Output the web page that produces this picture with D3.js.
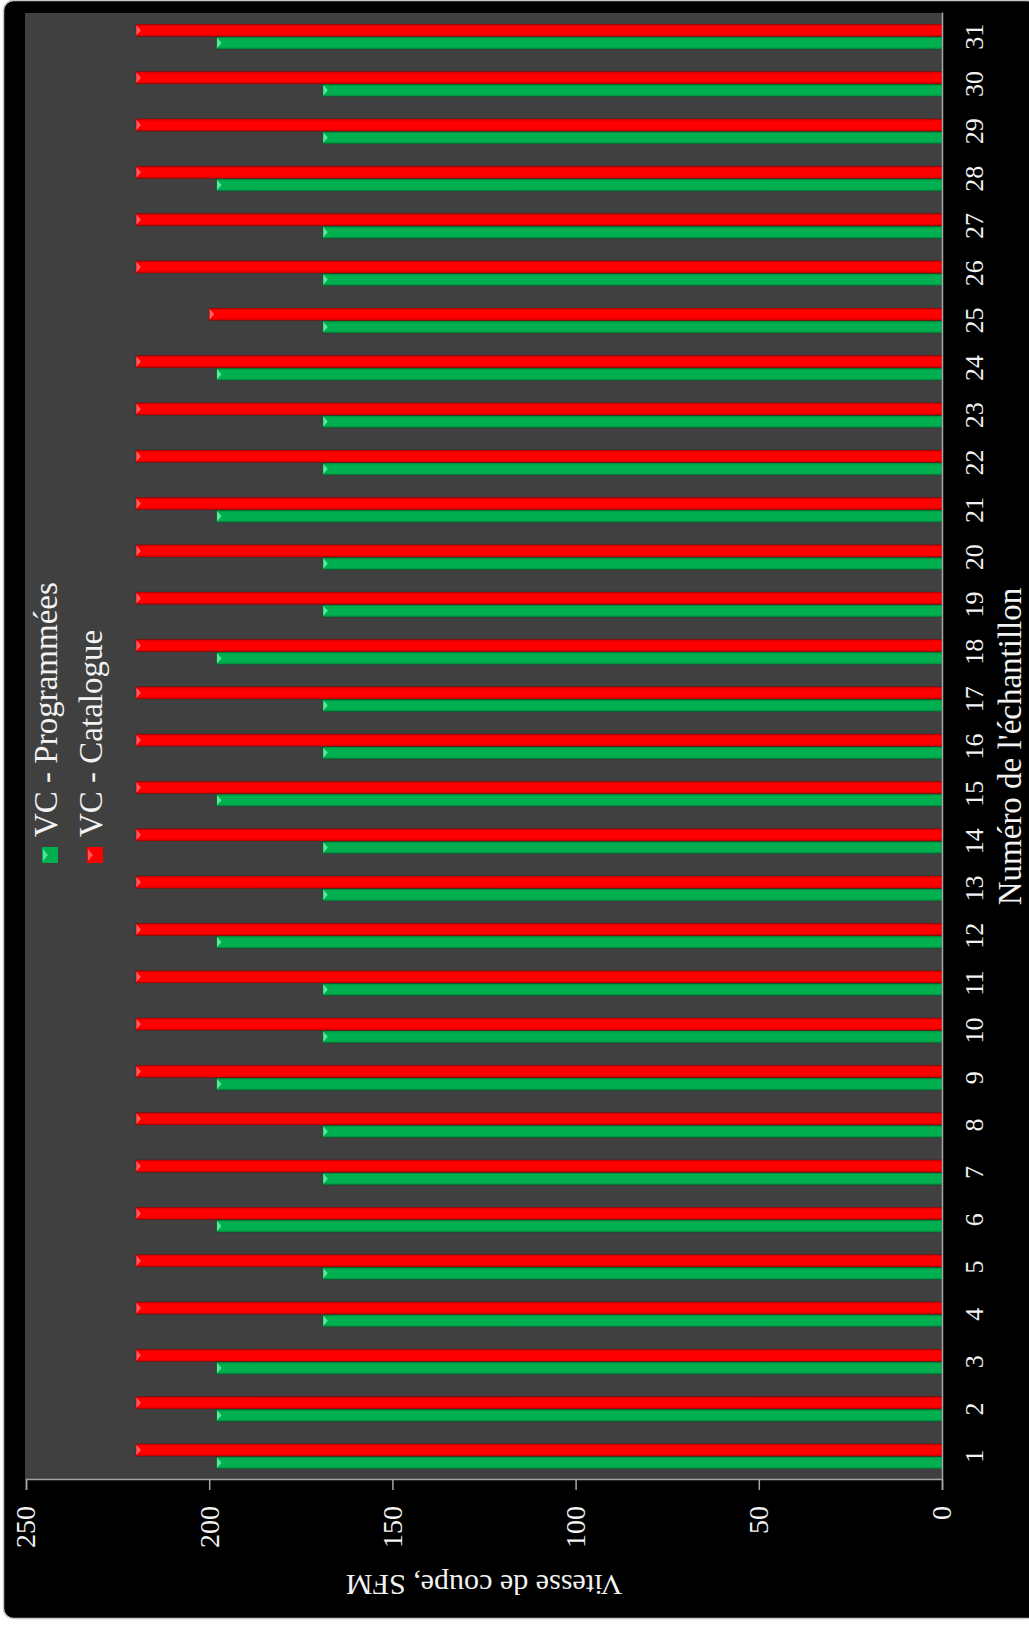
<!DOCTYPE html>
<html>
<head>
<meta charset="utf-8">
<script src="https://cdn.jsdelivr.net/npm/d3@7"></script>
<style>
  html, body { margin: 0; padding: 0; background: #ffffff; }
  svg { display: block; }
  text { font-family: "Liberation Serif", "Times New Roman", serif; fill: #f2f2f2; }
</style>
</head>
<body>
<script>
// Sample numbers (category axis)
const samples = [1, 2, 3, 4, 5, 6, 7, 8, 9, 10, 11, 12, 13, 14, 15, 16,
                 17, 18, 19, 20, 21, 22, 23, 24, 25, 26, 27, 28, 29, 30, 31];
// Programmed cutting speed, SFM
const vcProgrammees = [198, 198, 198, 169, 169, 198, 169, 169, 198, 169, 169,
                       198, 169, 169, 198, 169, 169, 198, 169, 169, 198, 169,
                       169, 198, 169, 169, 169, 198, 169, 169, 198];
// Catalogue cutting speed, SFM
const vcCatalogue = [220, 220, 220, 220, 220, 220, 220, 220, 220, 220, 220,
                     220, 220, 220, 220, 220, 220, 220, 220, 220, 220, 220,
                     220, 220, 200, 220, 220, 220, 220, 220, 220];
const valueTicks = [0, 50, 100, 150, 200, 250];
const seriesNames = ["VC - Programmées", "VC - Catalogue"];

const pageW = 1029, pageH = 1627;
// The chart is laid out as a column chart (W x H) and turned a quarter turn.
const W = pageH, H = pageW;

const svg = d3.select("body").append("svg")
  .attr("width", pageW).attr("height", pageH);

const defs = svg.append("defs");
function grad(id, dark, mid) {
  const g = defs.append("linearGradient").attr("id", id)
    .attr("x1", 0).attr("x2", 1).attr("y1", 0).attr("y2", 0);
  g.append("stop").attr("offset", 0).attr("stop-color", dark);
  g.append("stop").attr("offset", 0.2).attr("stop-color", mid);
  g.append("stop").attr("offset", 0.8).attr("stop-color", mid);
  g.append("stop").attr("offset", 1).attr("stop-color", dark);
}
grad("gGreen", "#00843a", "#00b050");
grad("gRed", "#c00000", "#ff0000");

// Outer frame
svg.append("rect").attr("x", 3.5).attr("y", 0.5)
  .attr("width", pageW + 4).attr("height", 1618).attr("rx", 10)
  .attr("fill", "#000").attr("stroke", "#c8c8c8").attr("stroke-width", 1.5);

const g = svg.append("g")
  .attr("transform", `translate(0,${pageH}) rotate(-90)`);

const plot = { left: 147, right: 1614, top: 26, bottom: 942 };

const x = d3.scaleBand().domain(samples)
  .range([plot.left, plot.right]).paddingInner(0.46).paddingOuter(0.23);
const xs = d3.scaleBand().domain([0, 1])
  .range([0, x.bandwidth()]).padding(0.02);
const y = d3.scaleLinear().domain([0, 250]).range([plot.bottom, plot.top]);

// Plot area
g.append("rect").attr("x", plot.left).attr("y", plot.top - 1)
  .attr("width", plot.right - plot.left).attr("height", plot.bottom - plot.top + 1)
  .attr("fill", "#404040");

const series = [
  { values: vcProgrammees, fill: "url(#gGreen)", tip: "#5ff0a0", key: "#00b050" },
  { values: vcCatalogue, fill: "url(#gRed)", tip: "#ff6a6a", key: "#ff0000" }
];

series.forEach((s, si) => {
  const grp = g.append("g");
  const data = samples.map((c, i) => ({ c, v: s.values[i] }));
  grp.selectAll("rect").data(data).join("rect")
    .attr("x", d => x(d.c) + xs(si))
    .attr("y", d => y(d.v))
    .attr("width", xs.bandwidth())
    .attr("height", d => y(0) - y(d.v))
    .attr("fill", s.fill)
    .attr("stroke", "rgba(0,0,0,0.25)").attr("stroke-width", 0.6);
  // bevelled tip at the bar end
  grp.selectAll("path").data(data).join("path")
    .attr("d", d => {
      const x0 = x(d.c) + xs(si), w = xs.bandwidth(), y0 = y(d.v);
      return `M${x0 + 1},${y0 + 0.5}L${x0 + w - 1},${y0 + 0.5}L${x0 + w / 2},${y0 + 5}Z`;
    })
    .attr("fill", s.tip).attr("opacity", 0.9);
});

// Value axis
const yAxis = d3.axisLeft(y).tickValues(valueTicks).tickSize(10).tickPadding(16);
const ya = g.append("g").attr("transform", `translate(${plot.left},0)`).call(yAxis);
ya.select(".domain").attr("stroke", "#a6a6a6").attr("stroke-width", 1.5);
ya.selectAll(".tick line").attr("stroke", "#a6a6a6").attr("stroke-width", 1.5);
ya.selectAll(".tick text").style("font-size", "28px").attr("fill", "#f2f2f2")
  .style("font-family", "'Liberation Serif', 'Times New Roman', serif");

// Category axis
const xAxis = d3.axisBottom(x).tickSize(0).tickPadding(41);
const xa = g.append("g").attr("transform", `translate(0,${plot.bottom})`).call(xAxis);
xa.select(".domain").attr("stroke", "#a6a6a6").attr("stroke-width", 1.5);
xa.selectAll(".tick text").style("font-size", "26px").attr("fill", "#f2f2f2")
  .attr("dy", 0)
  .style("font-family", "'Liberation Serif', 'Times New Roman', serif");

// Axis titles
g.append("text").attr("x", (plot.left + plot.right) / 2).attr("y", 1021)
  .attr("text-anchor", "middle").style("font-size", "33px")
  .text("Numéro de l'échantillon");
g.append("text").attr("transform", `translate(52,${(plot.top + plot.bottom) / 2}) rotate(-90)`)
  .attr("text-anchor", "middle").style("font-size", "30px")
  .text("Vitesse de coupe, SFM");

// Legend
const legend = g.append("g").attr("transform", "translate(764,0)");
seriesNames.forEach((name, i) => {
  const top = 42 + i * 45;
  legend.append("rect").attr("x", 0).attr("y", top).attr("width", 16).attr("height", 16)
    .attr("fill", series[i].key);
  legend.append("path")
    .attr("d", `M2,${top + 1}L14,${top + 1}L8,${top + 6}Z`)
    .attr("fill", series[i].tip).attr("opacity", 0.8);
  legend.append("text").attr("x", 26).attr("y", top + 15)
    .style("font-size", "33px").text(name);
});
</script>
</body>
</html>
